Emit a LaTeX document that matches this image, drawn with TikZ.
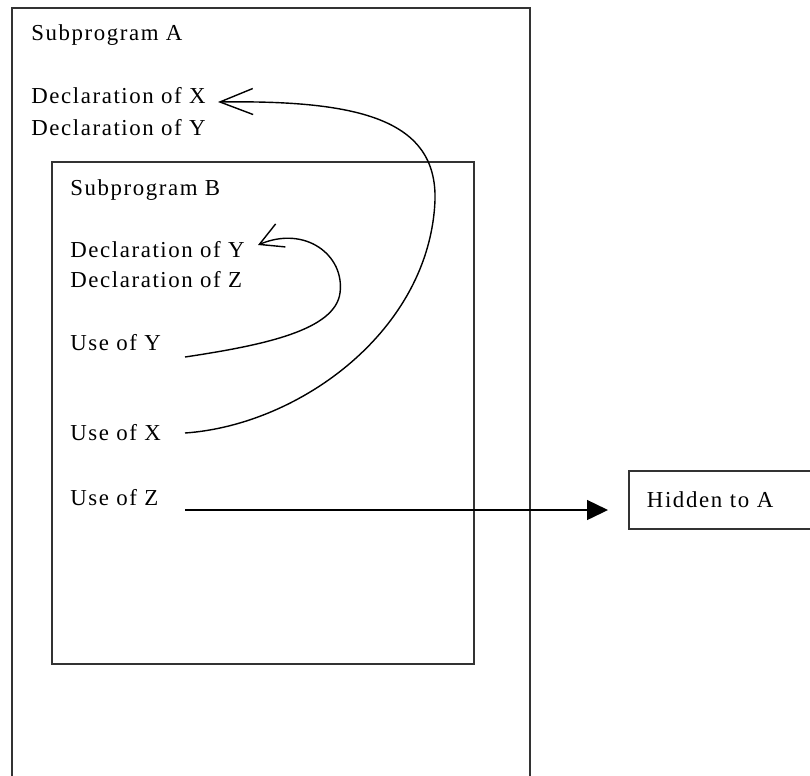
\documentclass[tikz,border=0pt]{standalone}
\usepackage{fontspec}
\setmainfont[LetterSpace=7]{Liberation Serif}
\usetikzlibrary{
    arrows.meta,
    positioning
}

\tikzset{
    txt/.style={anchor=base west, inner sep=0pt, font=\fontsize{13}{15}\selectfont},
    frame/.style={draw=black!80, line width=1.1pt},
    link/.style={line width=0.8pt}
}

\begin{document}
\begin{tikzpicture}[x=0.02cm, y=-0.02cm]
                        \useasboundingbox (0, 0) rectangle (810, 775);
                        \draw[frame] (12, 8) rectangle (530, 800);
                        \draw[frame] (52, 162) rectangle (474, 664);

                        \node[txt] (subA) at (31, 40) {Subprogram A};
                        \node[txt] (declX) at (31, 103) {Declaration of X};
                        \node[txt] (declYa) at (31, 135) {Declaration of Y};

                        \node[txt] (subB) at (70, 195) {Subprogram B};
                        \node[txt] (declYb) at (70, 257) {Declaration of Y};
                        \node[txt] (declZ) at (70, 287) {Declaration of Z};
                        \node[txt] (useY) at (70, 350) {Use of Y};
                        \node[txt] (useX) at (70, 440) {Use of X};
                        \node[txt] (useZ) at (70, 505) {Use of Z};

                        \node[frame, anchor=north west, minimum width=4.1cm, minimum height=1.16cm,
                            inner xsep=0.36cm, text width=3.38cm, align=left,
                            font=\fontsize{13}{15}\selectfont] (hidden) at (628, 470) {Hidden to A};

                        \coordinate (yFrom) at (185, 357);
                        \coordinate (yTo) at (258, 245);
                        \coordinate (xFrom) at (185, 433);
                        \coordinate (xTo) at (218, 102);
                        \coordinate (zFrom) at (185, 510);

                        \draw[link, -{Straight Barb[length=0.46cm, width=0.5cm]}]
                        (yFrom) .. controls (265, 345) and (335, 330) .. (340, 293)
                        .. controls (345, 255) and (305, 225) .. (yTo);
                        \draw[link, -{Straight Barb[length=0.66cm, width=0.52cm]}]
                        (xFrom) .. controls (300, 425) and (430, 330) .. (435, 200)
                        .. controls (437, 120) and (360, 100) .. (xTo);
                        \draw[link, -{Triangle[length=0.42cm, width=0.4cm]}, shorten >=0.4cm]
                        (zFrom) -- (zFrom -| hidden.west);
\end{tikzpicture}
\end{document}
